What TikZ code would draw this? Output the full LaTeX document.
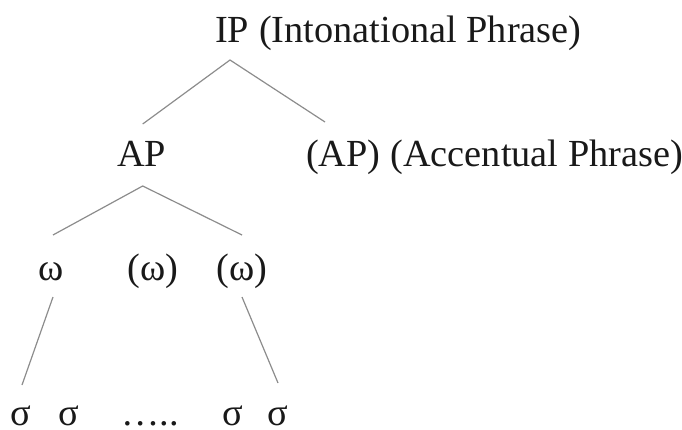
\documentclass[tikz,border=0pt]{standalone}
\usepackage{fontspec}
\setmainfont{Liberation Serif}
\begin{document}
\begin{tikzpicture}[x=1pt,y=-1pt,
  lbl/.style={inner sep=0pt, text=black!90, font=\fontsize{38.3}{44}\selectfont},
  low/.style={lbl, anchor=base, text depth=0pt},
  edge/.style={draw=black!45, line width=1.2pt}]
\useasboundingbox (0,0) rectangle (682,430);
% top level
\node[lbl, anchor=base west] (IP) at (215,43) {IP};
\node[lbl, anchor=base west] (IPg) at ([xshift=9.5pt]IP.base east) {(Intonational Phrase)};
% AP level
\node[lbl, anchor=base west] (AP) at (117,167) {AP};
\node[lbl, anchor=base west] (AP2) at (306,167) {(AP)};
\node[lbl, anchor=base west] (APg) at ([xshift=9.5pt]AP2.base east) {(Accentual Phrase)};
% word level
\node[lbl, anchor=base] (w1) at (51.5,280) {ω};
\node[lbl, anchor=base] (w2) at (153,280) {(ω)};
\node[lbl, anchor=base] (w3) at (242,280) {(ω)};
% syllables
\node[low] (s1) at (21,425) {σ};
\node[low] (s2) at (69,425) {σ};
\node[low] (dots) at (150,425) {…..};
\node[low] (s3) at (233,425) {σ};
\node[low] (s4) at (278,425) {σ};
% connector end points
\coordinate (ipB) at (230,60);
\coordinate (apT) at (142.7,124);
\coordinate (ap2T) at (325,122);
\coordinate (apB) at (142.7,186);
\coordinate (w1T) at (53,235);
\coordinate (w3T) at (242,235);
\coordinate (w1B) at (53,297);
\coordinate (s1T) at (22,385);
\coordinate (w3B) at (242,297);
\coordinate (s4T) at (278,383);
\draw[edge] (apT) -- (ipB) -- (ap2T);
\draw[edge] (w1T) -- (apB) -- (w3T);
\draw[edge] (w1B) -- (s1T);
\draw[edge] (w3B) -- (s4T);
\end{tikzpicture}
\end{document}
